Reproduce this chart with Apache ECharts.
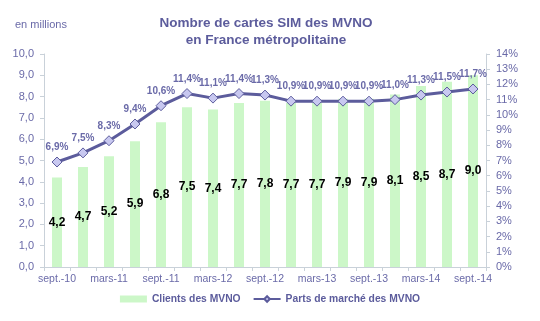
<!DOCTYPE html>
<html>
<head>
<meta charset="utf-8">
<script src="https://cdn.jsdelivr.net/npm/echarts@6/dist/echarts.min.js"></script>
<style>
  html, body { margin: 0; padding: 0; background: #fff; }
  #chart { width: 540px; height: 321px; }
</style>
</head>
<body>
<div id="chart"></div>
<script>
// Quarterly periods, sept. 2010 to sept. 2014
const periods = ['sept.-10', 'déc.-10', 'mars-11', 'juin-11', 'sept.-11', 'déc.-11', 'mars-12', 'juin-12',
  'sept.-12', 'déc.-12', 'mars-13', 'juin-13', 'sept.-13', 'déc.-13', 'mars-14', 'juin-14', 'sept.-14'];
// MVNO SIM cards, in millions
const clients = [4.2, 4.7, 5.2, 5.9, 6.8, 7.5, 7.4, 7.7, 7.8, 7.7, 7.7, 7.9, 7.9, 8.1, 8.5, 8.7, 9.0];
// MVNO market share, in %
const share = [6.9, 7.5, 8.3, 9.4, 10.6, 11.4, 11.1, 11.4, 11.3, 10.9, 10.9, 10.9, 10.9, 11.0, 11.3, 11.5, 11.7];

const purple = '#5c5c9c';
const labelPurple = '#6a6aa8';
const axisGray = '#c9d1d9';
const fr = (v, d) => v.toFixed(d).replace('.', ',');

const chart = echarts.init(document.getElementById('chart'));
chart.setOption({
  animation: false,
  textStyle: { fontFamily: 'Liberation Sans, Arial, sans-serif' },
  title: {
    text: 'Nombre de cartes SIM des MVNO\nen France métropolitaine',
    left: 261, top: 10, textAlign: 'center',
    textStyle: { fontSize: 13.5, fontWeight: 'bold', color: purple, lineHeight: 17 }
  },
  graphic: [{
    type: 'text', left: 15, top: 19,
    style: { text: 'en millions', fontSize: 11, fill: labelPurple, fontFamily: 'Liberation Sans, Arial, sans-serif' }
  }],
  legend: {
    bottom: 12, left: 'center', itemGap: 12, itemWidth: 27, itemHeight: 7,
    textStyle: { fontSize: 10.3, fontWeight: 'bold', color: purple },
    data: [
      { name: 'Clients des MVNO', icon: 'rect' },
      { name: 'Parts de marché des MVNO' }
    ]
  },
  grid: { left: 44, right: 54, top: 54, bottom: 54 },
  xAxis: {
    type: 'category', data: periods, boundaryGap: true,
    axisLine: { lineStyle: { color: axisGray } },
    axisTick: { show: true, interval: 0, length: 4, lineStyle: { color: axisGray } },
    axisLabel: { interval: 1, color: labelPurple, fontSize: 10.5, margin: 7 }
  },
  yAxis: [{
    type: 'value', min: 0, max: 10, interval: 1,
    axisLine: { show: true, lineStyle: { color: axisGray } },
    axisTick: { show: true, length: 4, lineStyle: { color: axisGray } },
    splitLine: { show: false },
    axisLabel: { color: labelPurple, fontSize: 11, margin: 10, formatter: v => fr(v, 1) }
  }, {
    type: 'value', min: 0, max: 14, interval: 1,
    axisLine: { show: true, lineStyle: { color: axisGray } },
    axisTick: { show: true, length: 4, lineStyle: { color: axisGray } },
    splitLine: { show: false },
    axisLabel: { color: labelPurple, fontSize: 11, margin: 10, formatter: v => v + '%' }
  }],
  series: [{
    name: 'Clients des MVNO', type: 'bar', data: clients, barWidth: 10,
    itemStyle: { color: '#ccf7c8' },
    label: {
      show: true, position: 'inside', color: '#000', fontSize: 12, fontWeight: 'bold',
      formatter: p => fr(p.value, 1)
    }
  }, {
    name: 'Parts de marché des MVNO', type: 'line', yAxisIndex: 1, data: share,
    symbol: 'diamond', symbolSize: 10,
    lineStyle: { color: purple, width: 3 },
    itemStyle: { color: '#c8c8f0', borderColor: purple, borderWidth: 1 },
    label: {
      show: true, position: 'top', distance: 4, color: labelPurple, fontSize: 10, fontWeight: 'bold',
      formatter: p => fr(p.value, 1) + '%'
    },
    z: 3
  }]
});
</script>
</body>
</html>
